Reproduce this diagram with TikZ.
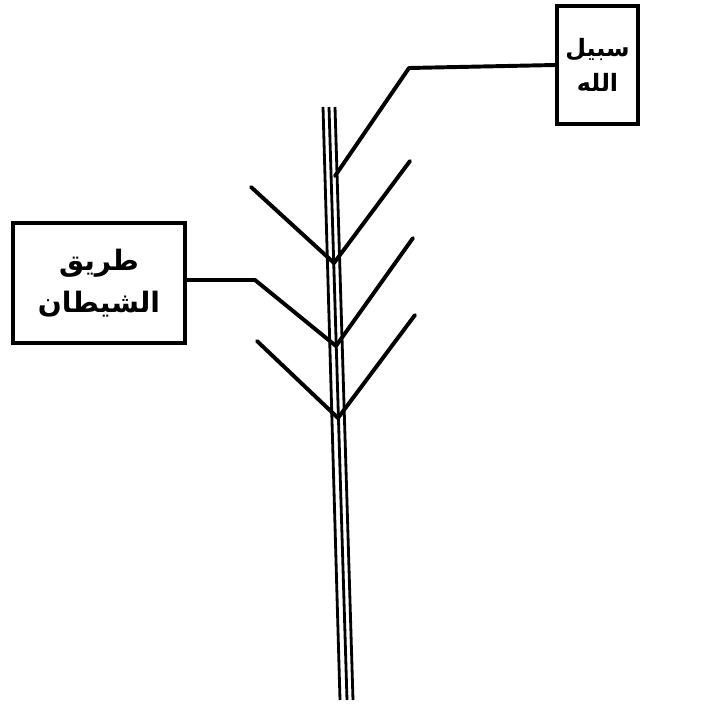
\documentclass[tikz,border=0pt]{standalone}
\usepackage{fontspec}
\newfontfamily\arabicfont[Script=Arabic]{DejaVu Sans}
\TeXXeTstate=1
\usetikzlibrary{positioning,calc}
\tikzset{
  way/.style={draw,line width=2.6pt,align=center,inner sep=4pt},
  stem/.style={line width=2pt},
  branch/.style={line width=2.8pt,line cap=round,line join=round},
}

\begin{document}
\begin{tikzpicture}[x=0.025cm,y=-0.025cm]
  \useasboundingbox (0,0) rectangle (726,705);
  % the two labelled boxes
  \node[way,minimum width=2.03cm,minimum height=2.95cm,
    font=\arabicfont\bfseries\fontsize{17}{25}\selectfont] (allah) at (597.5,65)
    {\beginR سبيل\endR\\\beginR الله\endR};
  \node[way,minimum width=4.3cm,minimum height=3cm,
    font=\arabicfont\bfseries\fontsize{20}{30}\selectfont] (shaytan) at (99,283)
    {\beginR طريق\endR\\\beginR الشيطان\endR};
  % the straight path: three thin lines
  \foreach \t/\b in {323/340,329/347,335/353}
    \draw[stem] (\t,107) -- (\b,700);
  % joints on the stem
  \coordinate (j0) at (335,176);
  \coordinate (j1) at (334,263);
  \coordinate (j2) at (336,346);
  \coordinate (j3) at (338,418);
  \coordinate (bendA) at (409,68);
  \coordinate (bendS) at (255,280);
  % the side paths
  \draw[branch] (allah.west) -- (bendA) -- (j0);
  \draw[branch] (shaytan.east |- bendS) -- (bendS) -- (j2) -- (413,238);
  \draw[branch] (251,187) -- (j1) -- (410,161);
  \draw[branch] (257,341) -- (j3) -- (415,315);
\end{tikzpicture}
\end{document}
